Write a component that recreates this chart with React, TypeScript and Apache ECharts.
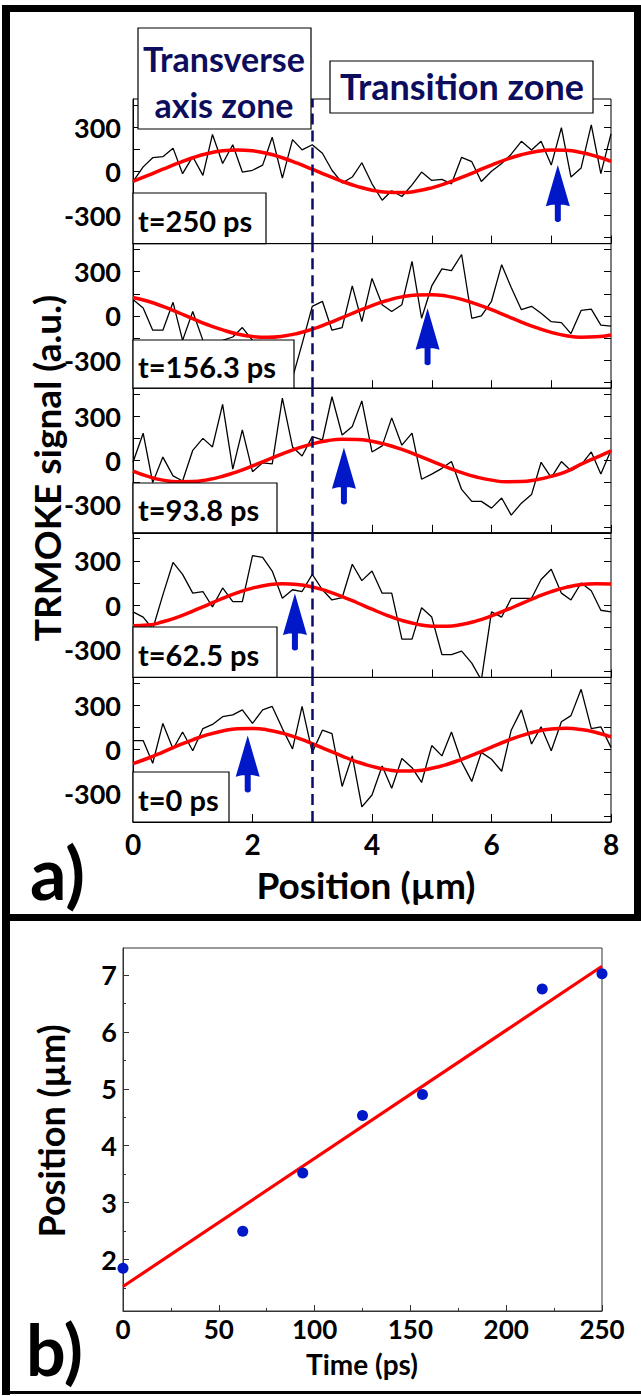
import React, { useEffect, useRef } from "react";
import * as echarts from "echarts";

// ---------- panel a data ----------
const POS = [0, 0.17, 0.33, 0.5, 0.67, 0.83, 1, 1.17, 1.33, 1.5, 1.67, 1.83, 2, 2.17, 2.33, 2.5, 2.67, 2.83, 3, 3.17, 3.33, 3.5, 3.67, 3.83, 4, 4.17, 4.33, 4.5, 4.67, 4.83, 5, 5.17, 5.33, 5.5, 5.67, 5.83, 6, 6.17, 6.33, 6.5, 6.67, 6.83, 7, 7.17, 7.33, 7.5, 7.67, 7.83, 8];

const SIG_250 = [-70, 30, 92, 99, 157, -16, 99, -28, 250, 53, 180, -5, 7, 42, 231, -46, 215, 145, 180, 122, 7, -79, -39, 58, -85, -196, -132, -171, -92, -5, -62, -55, -85, 95, 65, -69, 0, 53, 116, 203, 145, 203, 42, 296, -39, 23, 314, -16, 254];
const SIG_156 = [111, 53, -97, -97, 92, -166, 30, -166, -250, -166, -143, -79, -166, -259, -351, -443, -420, -190, 65, 99, -97, -79, 203, -39, 254, 76, 30, 76, 370, -16, 203, 319, 307, 416, -16, 0, 99, 347, 192, 42, 65, 18, -39, -46, -120, 37, 46, -62, -69];
const SIG_938 = [-12, 185, -150, 23, -104, -139, 69, 150, 92, 381, -58, 208, -76, -16, -23, 423, 92, 30, 162, 139, 432, 173, 231, 404, 58, 99, 289, 104, 185, -127, -92, -53, -7, -196, -277, -277, -323, -254, -370, -289, -231, -12, -116, -7, -69, -30, 58, -92, 69];
const SIG_625 = [-46, -81, -162, 69, 289, 208, 81, 92, -12, 116, 23, 23, 335, 323, 231, 46, 104, 92, 208, 104, 35, 50, 277, 166, 231, 81, 81, -231, -231, -18, -81, -335, -335, -312, -393, -508, -46, -81, 46, 46, 46, 173, 243, 81, 35, 150, 97, -35, -46];
const SIG_0 = [62, 62, -92, 178, 5, 120, -7, 143, 171, 224, 236, 270, 178, 270, 293, 143, 5, 293, -18, 132, 109, -249, -42, -388, -307, -111, -261, -60, -122, -222, 28, -42, 120, -83, -215, -18, -65, -146, 132, 270, 39, 155, -7, 189, 231, 409, 143, 155, 16];

const FIT_X = [0, 0.25, 0.5, 0.75, 1, 1.25, 1.5, 1.75, 2, 2.25, 2.5, 2.75, 3, 3.25, 3.5, 3.75, 4, 4.25, 4.5, 4.75, 5, 5.25, 5.5, 5.75, 6, 6.25, 6.5, 6.75, 7, 7.25, 7.5, 7.75, 8];
const FIT_250 = [-68, -28, 14, 55, 92, 121, 139, 145, 139, 121, 92, 55, 14, -28, -68, -102, -128, -142, -144, -134, -112, -80, -42, 0, 42, 81, 112, 134, 144, 142, 128, 102, 68];
const FIT_156 = [125, 99, 64, 24, -19, -60, -95, -123, -140, -145, -138, -119, -90, -53, -12, 30, 70, 104, 129, 142, 144, 134, 112, 80, 42, 0, -42, -80, -112, -134, -144, -142, -129];
const FIT_938 = [-72, -108, -133, -144, -143, -130, -107, -75, -37, 4, 45, 82, 112, 134, 144, 143, 130, 107, 75, 37, -4, -45, -82, -112, -133, -144, -143, -130, -107, -75, -25, 20, 65];
const FIT_625 = [-140, -135, -113, -81, -41, 2, 45, 84, 115, 136, 145, 140, 123, 95, 58, 16, -28, -69, -104, -129, -143, -144, -132, -107, -73, -33, 10, 53, 91, 120, 139, 145, 143];
const FIT_0 = [-94, -58, -16, 27, 67, 102, 127, 142, 144, 134, 112, 80, 42, -1, -43, -82, -113, -135, -145, -142, -126, -100, -65, -25, 18, 59, 95, 123, 140, 145, 137, 117, 87];

const SIGNALS = [SIG_250, SIG_156, SIG_938, SIG_625, SIG_0];
const FITS = [FIT_250, FIT_156, FIT_938, FIT_625, FIT_0];
const PANEL_LABELS = ["t=250 ps", "t=156.3 ps", "t=93.8 ps", "t=62.5 ps", "t=0 ps"];
const ARROW_X = [7.11, 4.93, 3.53, 2.71, 1.92];
const ARROW_Y = [-150, -142, -105, -115, -97];
const DIVIDE_X = 3;

const Y_LABELS_A = [-300, 0, 300];
const Y_TICKS_A = [-450, -300, -150, 0, 150, 300, 450];

// ---------- panel b data ----------
const TIME = [0, 62.5, 93.8, 125, 156.3, 218.8, 250];
const POSN = [1.85, 2.5, 3.52, 4.53, 4.9, 6.75, 7.02];
const FIT_T = [0, 250];
const FIT_P = [1.53, 7.15];
const Y_LABELS_B = [2, 3, 4, 5, 6, 7];
const Y_MINOR_B = [1.5, 2.5, 3.5, 4.5, 5.5, 6.5];

const FONT = "Lato, 'Open Sans', sans-serif";
const NAVY = "#0d0d5e";
const BLUE = "#0018c8";

// layout
const A_LEFT = 133;
const A_WIDTH = 478;
const A_TOP = 99;
const A_H = 144.6;
const BOX_TOPS = [193, 340, 483, 627, 772];
const BOX_RIGHTS = [266, 294, 277, 277, 229];

const ARROW_PATH = "path://M12,0 L24,41 Q12,37 0,41 Z M9,39 L15,39 L15,55 Q12,58 9,55 Z";

function txt(text: string, x: number, y: number, size: number, opts: any = {}) {
  return {
    type: "text",
    x,
    y,
    rotation: opts.rotation || 0,
    z: 110,
    style: {
      text,
      fill: opts.color || "#000",
      fontSize: size,
      fontWeight: "bold",
      fontFamily: FONT,
      align: opts.align || "center",
      textAlign: opts.align || "center",
      verticalAlign: "middle",
      textVerticalAlign: "middle",
    },
  };
}

export default function App() {
  const ref = useRef<HTMLDivElement>(null);

  useEffect(() => {
    const chart = echarts.init(ref.current!, null, { renderer: "svg" });

    const grids: any[] = [];
    const xAxes: any[] = [];
    const yAxes: any[] = [];
    const series: any[] = [];
    const graphic: any[] = [];

    for (let i = 0; i < 5; i++) {
      const top = A_TOP + i * A_H;
      grids.push({ left: A_LEFT, top, width: A_WIDTH, height: A_H, show: true, borderColor: "#000", borderWidth: 1 });
      xAxes.push({
        gridIndex: i,
        type: "value",
        min: 0,
        max: 8,
        interval: 1,
        axisLine: { show: true, onZero: false, lineStyle: { color: "#000", width: 1 } },
        axisTick: { show: true, inside: true, length: 8, lineStyle: { color: "#000" } },
        axisLabel: {
          show: i === 4,
          formatter: (v: number) => (v % 2 === 0 ? String(v) : ""),
          fontSize: 28,
          fontWeight: "bold",
          fontFamily: FONT,
          color: "#000",
          margin: 8,
        },
        splitLine: { show: false },
      });
      yAxes.push({
        gridIndex: i,
        type: "value",
        position: "left",
        min: -490,
        max: 490,
        axisLine: { show: true, onZero: false, lineStyle: { color: "#000", width: 1 } },
        axisTick: { show: true, inside: true, length: 7, customValues: Y_TICKS_A, lineStyle: { color: "#000" } },
        axisLabel: { customValues: Y_LABELS_A, fontSize: 27, fontWeight: "bold", fontFamily: FONT, color: "#000", margin: 12 },
        splitLine: { show: false },
      });
      yAxes.push({
        gridIndex: i,
        type: "value",
        position: "right",
        min: -490,
        max: 490,
        axisLine: { show: false, onZero: false },
        axisTick: { show: true, inside: true, length: 7, customValues: Y_TICKS_A, lineStyle: { color: "#000" } },
        axisLabel: { show: false },
        splitLine: { show: false },
      });

      series.push({
        type: "line",
        xAxisIndex: i,
        yAxisIndex: 2 * i,
        data: POS.map((x, k) => [x, SIGNALS[i][k]]),
        symbol: "none",
        clip: true,
        lineStyle: { color: "#000", width: 1.3 },
        z: 2,
        markLine: {
          silent: true,
          symbol: ["none", "none"],
          label: { show: false },
          lineStyle: { color: "#0b0b6b", type: [11, 6], width: 2.5 },
          data: [{ xAxis: DIVIDE_X }],
        },
      });
      series.push({
        type: "line",
        xAxisIndex: i,
        yAxisIndex: 2 * i,
        data: FIT_X.map((x, k) => [x, FITS[i][k]]),
        symbol: "none",
        smooth: true,
        clip: true,
        lineStyle: { color: "#ff0000", width: 3.5 },
        z: 3,
      });
      series.push({
        type: "scatter",
        xAxisIndex: i,
        yAxisIndex: 2 * i,
        data: [[ARROW_X[i], ARROW_Y[i]]],
        symbol: ARROW_PATH,
        symbolSize: [24, 57],
        itemStyle: { color: BLUE, opacity: 1 },
        z: 4,
      });

      // time label box
      const bTop = BOX_TOPS[i];
      const bBot = top + A_H;
      graphic.push({
        type: "rect",
        z: 100,
        shape: { x: A_LEFT, y: bTop, width: BOX_RIGHTS[i] - A_LEFT, height: bBot - bTop },
        style: { fill: "#fff", stroke: "#000", lineWidth: 1.2 },
      });
      graphic.push(txt(PANEL_LABELS[i], 138, (bTop + bBot) / 2 + 2, 29, { align: "left" }));
    }

    // panel b
    grids.push({ left: 123, top: 948, width: 479, height: 363, show: true, borderColor: "#333", borderWidth: 1 });
    xAxes.push({
      gridIndex: 5,
      type: "value",
      min: 0,
      max: 250,
      interval: 50,
      axisLine: { show: true, onZero: false, lineStyle: { color: "#333", width: 1 } },
      axisTick: { show: true, inside: true, length: 6, lineStyle: { color: "#333" } },
      minorTick: { show: true, splitNumber: 2, length: 3, lineStyle: { color: "#333" } },
      axisLabel: { fontSize: 26, fontWeight: "bold", fontFamily: FONT, color: "#000", margin: 5 },
      splitLine: { show: false },
    });
    yAxes.push({
      gridIndex: 5,
      type: "value",
      position: "left",
      min: 1.1,
      max: 7.47,
      axisLine: { show: true, onZero: false, lineStyle: { color: "#333", width: 1 } },
      axisTick: { show: true, inside: true, length: 6, customValues: Y_LABELS_B, lineStyle: { color: "#333" } },
      axisLabel: { customValues: Y_LABELS_B, fontSize: 27, fontWeight: "bold", fontFamily: FONT, color: "#000", margin: 6 },
      splitLine: { show: false },
    });
    yAxes.push({
      gridIndex: 5,
      type: "value",
      position: "left",
      min: 1.1,
      max: 7.47,
      axisLine: { show: false, onZero: false },
      axisTick: { show: true, inside: true, length: 3, customValues: Y_MINOR_B, lineStyle: { color: "#333" } },
      axisLabel: { show: false },
      splitLine: { show: false },
    });
    series.push({
      type: "line",
      xAxisIndex: 5,
      yAxisIndex: 10,
      data: FIT_T.map((t, k) => [t, FIT_P[k]]),
      symbol: "none",
      lineStyle: { color: "#ff0000", width: 3.2 },
      z: 2,
    });
    series.push({
      type: "scatter",
      xAxisIndex: 5,
      yAxisIndex: 10,
      data: TIME.map((t, k) => [t, POSN[k]]),
      symbol: "circle",
      symbolSize: 11,
      itemStyle: { color: BLUE, opacity: 1 },
      z: 3,
    });

    // zone boxes
    graphic.push({
      type: "rect",
      z: 100,
      shape: { x: 138, y: 28, width: 173, height: 101 },
      style: { fill: "#fff", stroke: "#000", lineWidth: 1.2 },
    });
    graphic.push(txt("Transverse", 224, 58, 34, { color: NAVY }));
    graphic.push(txt("axis zone", 224, 104, 34, { color: NAVY }));
    graphic.push({
      type: "rect",
      z: 100,
      shape: { x: 330, y: 61, width: 263, height: 52 },
      style: { fill: "#fff", stroke: "#000", lineWidth: 1.2 },
    });
    graphic.push(txt("Transition zone", 462, 86, 36, { color: NAVY }));

    // titles
    graphic.push(txt("TRMOKE signal (a.u.)", 46, 468, 37, { rotation: Math.PI / 2 }));
    graphic.push(txt("Position (µm)", 366, 884, 37));
    graphic.push(txt("a)", 30, 872, 72, { align: "left" }));
    graphic.push(txt("b)", 26, 1349, 70, { align: "left" }));
    graphic.push(txt("Position (µm)", 51, 1131, 36, { rotation: Math.PI / 2 }));
    graphic.push(txt("Time (ps)", 362, 1364, 28));

    // frames
    const frame = (x: number, y: number, w: number, h: number) => ({
      type: "rect",
      z: 120,
      shape: { x, y, width: w, height: h },
      style: { fill: "#000" },
    });
    graphic.push(frame(2, 5, 639, 7));
    graphic.push(frame(2, 5, 8, 1390));
    graphic.push(frame(634, 5, 7, 916));
    graphic.push(frame(2, 914, 639, 7));
    graphic.push(frame(2, 1391, 639, 3));

    chart.setOption({
      animation: false,
      backgroundColor: "#fff",
      grid: grids,
      xAxis: xAxes,
      yAxis: yAxes,
      series,
      graphic,
    });

    return () => chart.dispose();
  }, []);

  return (
    <div
      ref={ref}
      style={{ position: "absolute", left: 0, top: 0, width: 641, height: 1396, background: "#fff" }}
    />
  );
}
